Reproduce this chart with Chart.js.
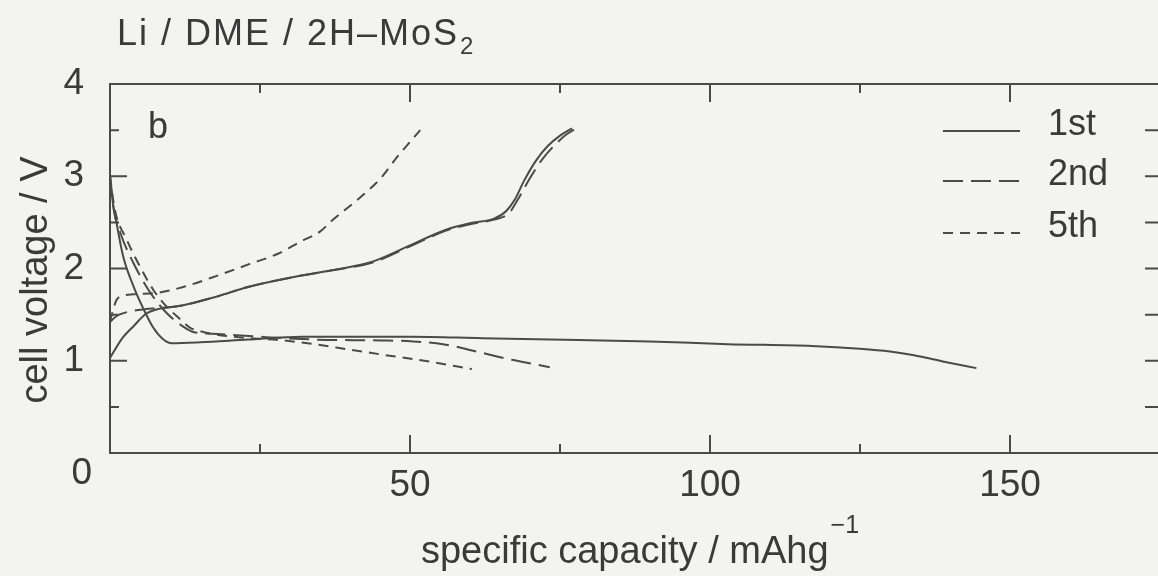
<!DOCTYPE html>
<html>
<head>
<meta charset="utf-8">
<script src="https://cdn.jsdelivr.net/npm/chart.js@4.4.0/dist/chart.umd.min.js"></script>
<style>
  html, body { margin: 0; padding: 0; background: #f3f3f1; overflow: hidden; }
  #wrap { width: 1170px; height: 576px; }
</style>
</head>
<body>
<div id="wrap"><canvas id="cellChart" width="1170" height="576"></canvas></div>
<script>
// capacity (mAh/g) and voltage (V)
const cap1Dis  = [0, 0.5, 1.1, 2.2, 3.9, 5.6, 7.2, 8.9, 10.3, 15, 23, 32, 50, 62, 78, 90, 103, 117, 125, 130, 134, 139, 144.4];
const volt1Dis = [3.00, 2.70, 2.49, 2.13, 1.81, 1.56, 1.36, 1.23, 1.19, 1.20, 1.23, 1.26, 1.26, 1.245, 1.225, 1.21, 1.18, 1.16, 1.13, 1.10, 1.06, 0.99, 0.92];
const cap1Chg  = [0, 2, 4, 6, 8, 12, 18, 23, 30, 37, 44, 50, 56, 60, 64, 66, 67.5, 69, 71, 73, 75, 77];
const volt1Chg = [1.03, 1.24, 1.38, 1.51, 1.56, 1.60, 1.70, 1.80, 1.90, 1.98, 2.08, 2.25, 2.42, 2.49, 2.54, 2.62, 2.75, 2.95, 3.17, 3.33, 3.44, 3.52];

const cap2Dis  = [0, 0.6, 1.7, 3.9, 6.7, 9.4, 12.2, 14, 18, 25, 34, 45, 50.5, 55.5, 61.7, 67, 73.3];
const volt2Dis = [3.00, 2.65, 2.39, 2.06, 1.74, 1.52, 1.37, 1.31, 1.29, 1.26, 1.23, 1.22, 1.21, 1.18, 1.09, 1.01, 0.93];
const cap2Chg  = [0, 1, 3, 6, 8, 12, 18, 23, 30, 37, 44, 50, 56, 60, 64, 66.5, 68, 70, 72, 74, 76, 77.7];
const volt2Chg = [1.42, 1.48, 1.53, 1.56, 1.57, 1.60, 1.70, 1.80, 1.90, 1.98, 2.07, 2.24, 2.41, 2.48, 2.53, 2.60, 2.75, 2.98, 3.18, 3.33, 3.45, 3.52];

const cap5Dis  = [0, 0.8, 2.8, 5, 7.2, 9.4, 11.7, 13.3, 15, 20.6, 28.9, 34, 40, 45, 53.3, 60.3];
const volt5Dis = [3.00, 2.64, 2.31, 2.02, 1.77, 1.59, 1.45, 1.36, 1.32, 1.26, 1.22, 1.18, 1.12, 1.07, 0.99, 0.91];
const cap5Chg  = [0, 0.4, 1.1, 2.5, 3.9, 8.3, 12.2, 17.8, 23.3, 28, 31.7, 35, 37, 41.5, 45, 48, 51.7];
const volt5Chg = [1.42, 1.52, 1.66, 1.71, 1.72, 1.74, 1.80, 1.92, 2.05, 2.16, 2.29, 2.40, 2.52, 2.76, 2.97, 3.22, 3.50];

const cycleLabels = ['1st', '2nd', '5th'];
const xTickLabels = [50, 100, 150];
const yTickLabels = [1, 2, 3, 4];

const INK = '#3a3a3a';
const LINE = '#4a4a4a';
const FONT = '"Liberation Sans", Arial, sans-serif';
const dashes = { '1st': [], '2nd': [20, 8], '5th': [10, 7] };

function pts(xs, ys) {
  return xs.map((x, i) => ({ x: x, y: ys[i] }));
}

function curve(label, xs, ys) {
  return {
    label: label,
    data: pts(xs, ys),
    borderColor: LINE,
    borderWidth: 2,
    borderDash: dashes[label],
    pointRadius: 0,
    fill: false,
    cubicInterpolationMode: 'monotone'
  };
}

// frame with inward ticks on all four sides
const framePlugin = {
  id: 'frame',
  afterDatasetsDraw(chart) {
    const ctx = chart.ctx;
    const a = chart.chartArea;
    const xs = chart.scales.x, ys = chart.scales.y;
    ctx.save();
    ctx.strokeStyle = LINE;
    ctx.lineWidth = 2;
    ctx.setLineDash([]);
    ctx.strokeRect(a.left, a.top, a.right - a.left, a.bottom - a.top);
    ctx.beginPath();
    xs.ticks.forEach(t => {
      const px = xs.getPixelForValue(t.value);
      const len = t.value % 50 === 0 ? 18 : 9;
      ctx.moveTo(px, a.bottom); ctx.lineTo(px, a.bottom - len);
      ctx.moveTo(px, a.top); ctx.lineTo(px, a.top + len);
    });
    ys.ticks.forEach(t => {
      const py = ys.getPixelForValue(t.value);
      const len = Number.isInteger(t.value) ? 17 : 9;
      ctx.moveTo(a.left, py); ctx.lineTo(a.left + len, py);
      ctx.moveTo(a.right, py); ctx.lineTo(a.right - 15, py);
    });
    ctx.stroke();
    ctx.restore();
  }
};

// titles, panel letter, shared zero and legend
const textPlugin = {
  id: 'texts',
  afterDraw(chart) {
    const ctx = chart.ctx;
    ctx.save();
    ctx.fillStyle = INK;
    ctx.textBaseline = 'alphabetic';

    // title with subscript
    ctx.font = '36px ' + FONT;
    ctx.textAlign = 'left';
    if ('letterSpacing' in ctx) ctx.letterSpacing = '2px';
    const main = 'Li / DME / 2H\u2013MoS';
    ctx.fillText(main, 117, 45);
    const w = ctx.measureText(main).width;
    ctx.font = '24px ' + FONT;
    ctx.fillText('2', 117 + w + 1, 54);
    if ('letterSpacing' in ctx) ctx.letterSpacing = '0px';

    // panel letter
    ctx.font = '36px ' + FONT;
    ctx.fillText('b', 148, 138);

    // shared origin label
    ctx.textAlign = 'right';
    ctx.textBaseline = 'middle';
    ctx.font = '37px ' + FONT;
    ctx.fillText('0', 92, 474);

    // y axis title
    ctx.save();
    ctx.translate(47, 280);
    ctx.rotate(-Math.PI / 2);
    ctx.textAlign = 'center';
    ctx.textBaseline = 'alphabetic';
    ctx.font = '38px ' + FONT;
    ctx.fillText('cell voltage / V', 0, 0);
    ctx.restore();

    // x axis title with superscript
    ctx.textAlign = 'left';
    ctx.textBaseline = 'alphabetic';
    ctx.font = '38px ' + FONT;
    const xt = 'specific capacity / mAhg';
    const xw = ctx.measureText(xt).width;
    ctx.font = '25px ' + FONT;
    const sup = '\u22121';
    const sw = ctx.measureText(sup).width;
    const x0 = 640 - (xw + sw + 2) / 2;
    ctx.font = '38px ' + FONT;
    ctx.fillText(xt, x0, 563);
    ctx.font = '25px ' + FONT;
    ctx.fillText(sup, x0 + xw + 2, 533);

    // legend
    const rows = [131, 181, 233];
    cycleLabels.forEach((lab, i) => {
      const y = rows[i];
      ctx.strokeStyle = LINE;
      ctx.lineWidth = 2;
      ctx.setLineDash(dashes[lab]);
      ctx.beginPath();
      ctx.moveTo(943, y);
      ctx.lineTo(1020, y);
      ctx.stroke();
      ctx.setLineDash([]);
      ctx.font = '36px ' + FONT;
      ctx.textBaseline = 'middle';
      ctx.fillText(lab, 1048, y - 6);
    });
    ctx.restore();
  }
};

const ctx = document.getElementById('cellChart').getContext('2d');
const chart = new Chart(ctx, {
  type: 'line',
  data: {
    datasets: [
      curve('1st', cap1Dis, volt1Dis),
      curve('1st', cap1Chg, volt1Chg),
      curve('2nd', cap2Dis, volt2Dis),
      curve('2nd', cap2Chg, volt2Chg),
      curve('5th', cap5Dis, volt5Dis),
      curve('5th', cap5Chg, volt5Chg)
    ]
  },
  options: {
    responsive: false,
    devicePixelRatio: 1,
    animation: false,
    layout: { padding: { top: 84, right: 10, left: 0, bottom: 0 } },
    plugins: { legend: { display: false }, tooltip: { enabled: false } },
    scales: {
      x: {
        type: 'linear',
        min: 0, max: 175,
        grid: { display: false },
        border: { display: false },
        ticks: {
          stepSize: 25,
          autoSkip: false,
          maxRotation: 0,
          padding: 3,
          color: INK,
          font: { family: FONT, size: 37 },
          callback: v => xTickLabels.includes(v) ? String(v) : ''
        },
        afterFit: s => { s.height = 123; }
      },
      y: {
        min: 0, max: 4,
        grid: { display: false },
        border: { display: false },
        ticks: {
          stepSize: 0.5,
          autoSkip: false,
          padding: 18,
          color: INK,
          font: { family: FONT, size: 37 },
          callback: v => yTickLabels.includes(v) ? String(v) : ''
        },
        afterFit: s => { s.width = 110; }
      }
    }
  },
  plugins: [framePlugin, textPlugin]
});
</script>
</body>
</html>
